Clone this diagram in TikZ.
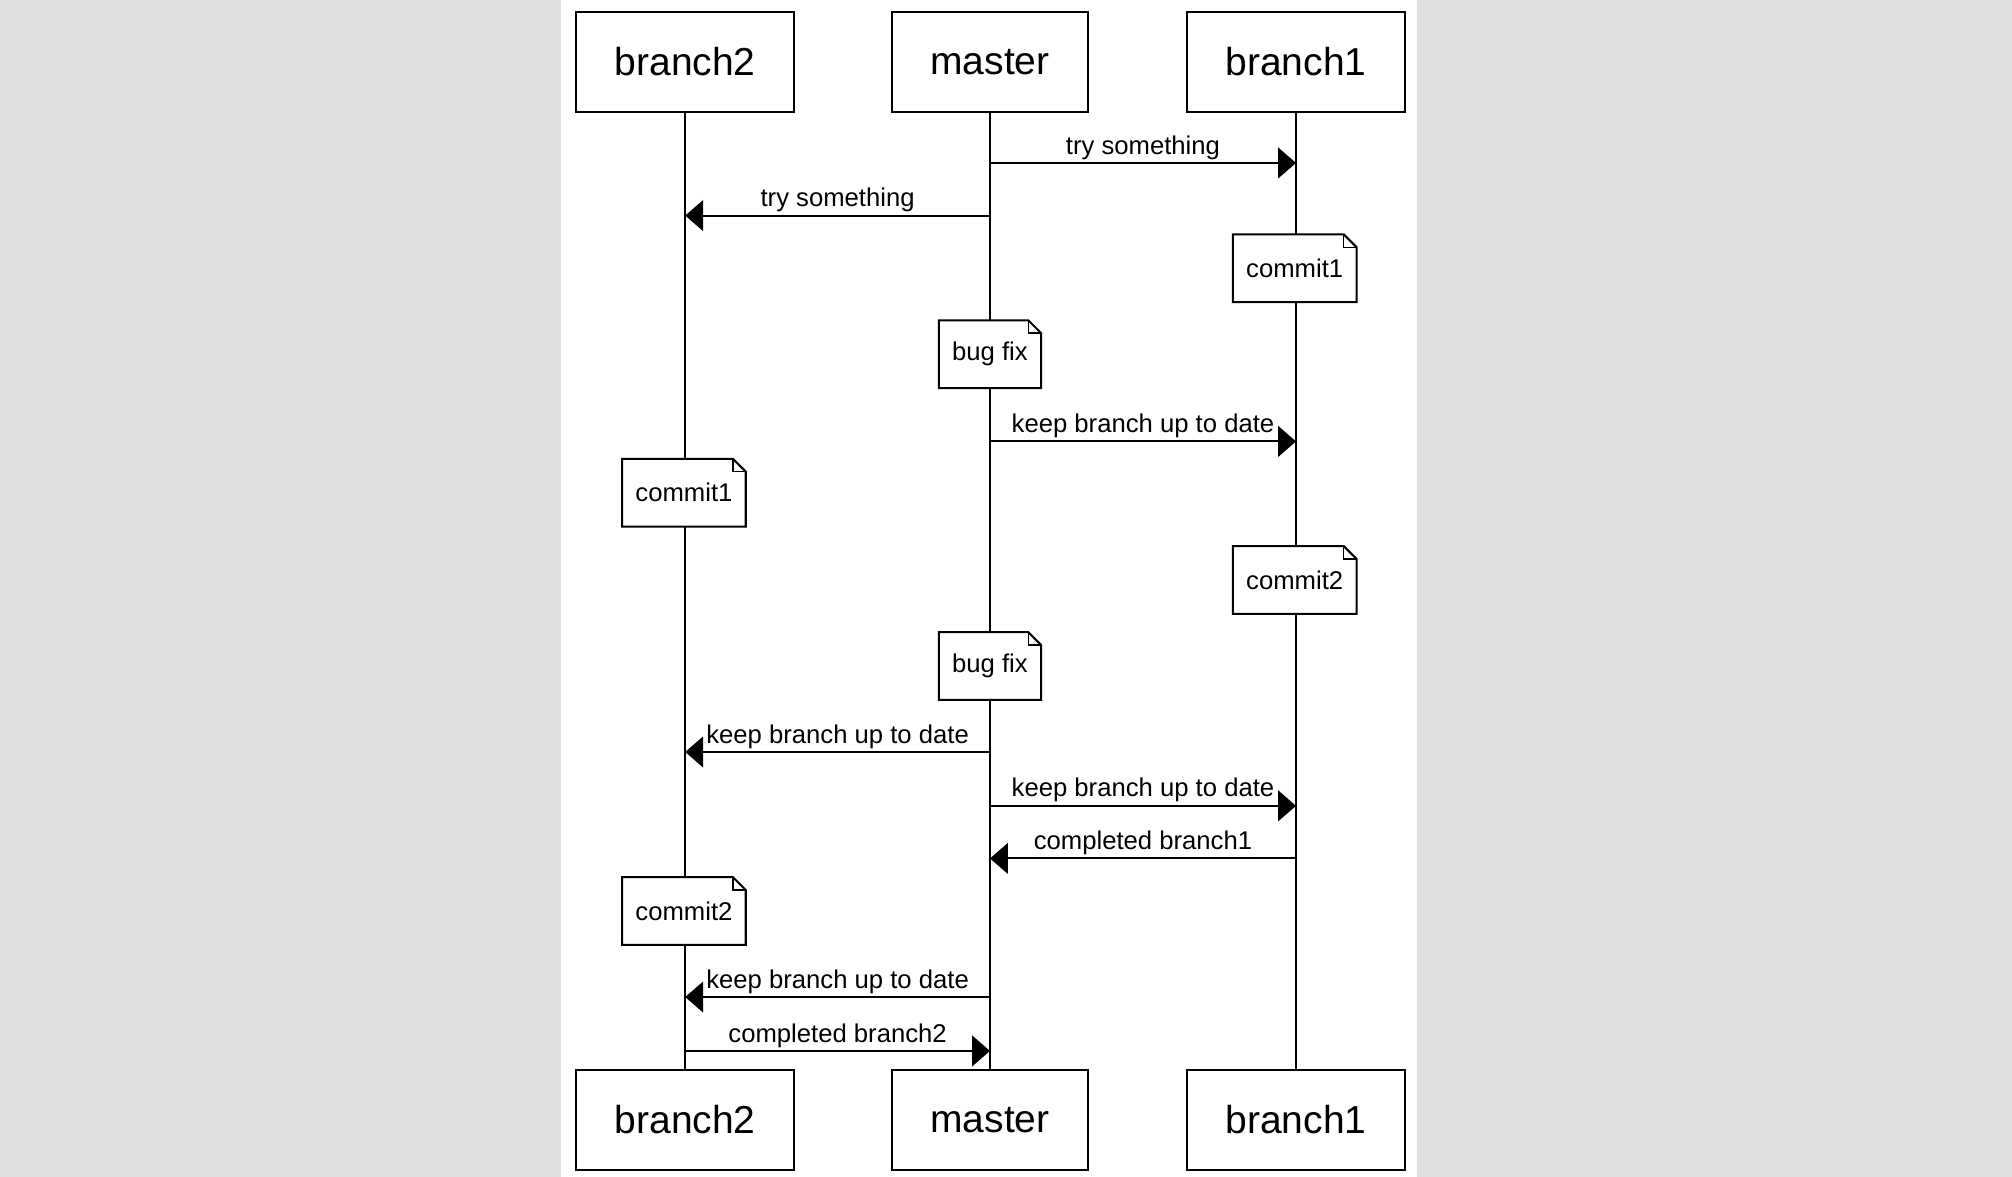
\documentclass[tikz,border=0pt]{standalone}
\usepackage{fontspec}
\setmainfont{Liberation Sans}
\usetikzlibrary{arrows.meta}

\definecolor{pagegray}{HTML}{DFDFDF}

\tikzset{
  lane/.style={draw, line width=0.8pt, fill=white, inner xsep=15pt, minimum height=39pt, font=\fontsize{15.2}{18}\selectfont},
  lifeline/.style={line width=0.8pt},
  msg/.style={line width=0.8pt, -{Triangle[length=7pt,width=12pt]}},
  msglabel/.style={above, inner sep=1pt, font=\fontsize{10}{12}\selectfont},
  notebox/.style={fill=white, inner xsep=5pt, inner ysep=0pt, minimum height=26pt, font=\fontsize{10}{12}\selectfont}
}

\newcommand{\dogear}[1]{%
  \draw[line width=0.8pt] (#1.north west) -- ([xshift=-5pt]#1.north east) -- ([yshift=-5pt]#1.north east) -- (#1.south east) -- (#1.south west) -- cycle;
  \draw[line width=0.5pt] ([xshift=-5pt]#1.north east) |- ([yshift=-5pt]#1.north east);}

\begin{document}
\begin{tikzpicture}[x=0.5pt, y=-0.5pt]
\fill[pagegray] (0,0) rectangle (1568,917);
\fill[white] (437,0) rectangle (1104,917);
\useasboundingbox (0,0) rectangle (1568,917);

% participants
\node[lane] (b2top) at (534,48) {branch2};
\node[lane] (mtop) at (771.5,48) {master};
\node[lane] (b1top) at (1010,48) {branch1};

\node[lane] (b2bot) at (534,872.5) {branch2};
\node[lane] (mbot) at (771.5,872.5) {master};
\node[lane] (b1bot) at (1010,872.5) {branch1};

\draw[lifeline] (b2top) -- (b2bot);
\draw[lifeline] (mtop) -- (mbot);
\draw[lifeline] (b1top) -- (b1bot);

% notes
\node[notebox] (c1b1) at (1009,209) {commit1};
\node[notebox] (fix1) at (771.5,276) {bug fix};
\node[notebox] (c1b2) at (533,384) {commit1};
\node[notebox] (c2b1) at (1009,452) {commit2};
\node[notebox] (fix2) at (771.5,519) {bug fix};
\node[notebox] (c2b2) at (533,710) {commit2};

\dogear{c1b1}
\dogear{fix1}
\dogear{c1b2}
\dogear{c2b1}
\dogear{fix2}
\dogear{c2b2}

% messages
\coordinate (m1a) at (mtop |- 0,127);
\coordinate (m1b) at (b1top |- 0,127);
\coordinate (m2a) at (mtop |- 0,168);
\coordinate (m2b) at (b2top |- 0,168);
\coordinate (m3a) at (mtop |- 0,344);
\coordinate (m3b) at (b1top |- 0,344);
\coordinate (m4a) at (mtop |- 0,586);
\coordinate (m4b) at (b2top |- 0,586);
\coordinate (m5a) at (mtop |- 0,628);
\coordinate (m5b) at (b1top |- 0,628);
\coordinate (m6a) at (b1top |- 0,669);
\coordinate (m6b) at (mtop |- 0,669);
\coordinate (m7a) at (mtop |- 0,777);
\coordinate (m7b) at (b2top |- 0,777);
\coordinate (m8a) at (b2top |- 0,819);
\coordinate (m8b) at (mtop |- 0,819);

\draw[msg] (m1a) -- node[msglabel] {try something} (m1b);
\draw[msg] (m2a) -- node[msglabel] {try something} (m2b);
\draw[msg] (m3a) -- node[msglabel] {keep branch up to date} (m3b);
\draw[msg] (m4a) -- node[msglabel] {keep branch up to date} (m4b);
\draw[msg] (m5a) -- node[msglabel] {keep branch up to date} (m5b);
\draw[msg] (m6a) -- node[msglabel] {completed branch1} (m6b);
\draw[msg] (m7a) -- node[msglabel] {keep branch up to date} (m7b);
\draw[msg] (m8a) -- node[msglabel] {completed branch2} (m8b);

\end{tikzpicture}
\end{document}
